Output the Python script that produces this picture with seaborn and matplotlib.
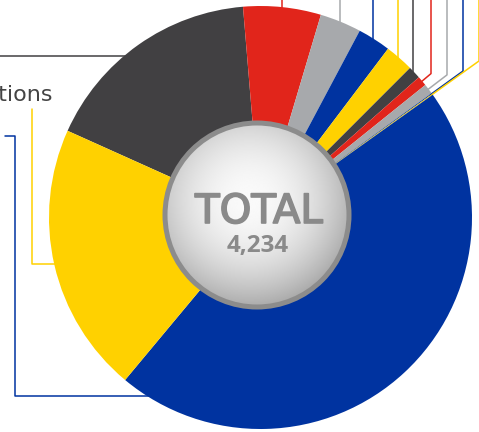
import numpy as np
import matplotlib
matplotlib.use("Agg")
import matplotlib.pyplot as plt
import matplotlib.patheffects as pe
from matplotlib.patches import Circle
import seaborn as sns

sns.set_style("white")
plt.rcParams['font.family'] = ['DejaVu Sans']

# data (clockwise from the yellow / dark boundary)
categories = ["Administration", "Research", "Training", "Outreach", "Support",
              "Logistics", "Finance", "Legal", "Audit", "Other",
              "Services", "Operations"]
counts = [718, 251, 134, 107, 93, 41, 32, 33, 3, 3, 1944, 875]
total = sum(counts)

dark, red, grey, blue, yellow = sns.color_palette(
    ["#414042", "#E1251B", "#A7A9AC", "#0033A0", "#FFD100"])
seg_colors = [dark, red, grey, blue, yellow, dark, red, grey, blue, yellow, blue, yellow]

W, H = 479, 432
def py(y):
    return H - y

cx, cy, R = 260.5, py(217.5), 211.5
lw = 1.1

fig = plt.figure(figsize=(W / 100, H / 100), dpi=100)
ax = fig.add_axes([0, 0, 1, 1])

wedges, _ = ax.pie(counts, colors=seg_colors, startangle=155.8, counterclock=False,
                   radius=R, center=(cx, cy),
                   wedgeprops=dict(width=R - 80, linewidth=0, zorder=2))

mid = [np.deg2rad((w.theta1 + w.theta2) / 2) for w in wedges]

def rim(i, r=R):
    return cx + r * np.cos(mid[i]), cy + r * np.sin(mid[i])

# leader lines, top right
for i in [1, 2, 3, 4, 5]:
    x, y = rim(i, R - 2)
    ax.plot([x, x], [y, H + 5], color=seg_colors[i], lw=lw, zorder=1)
for i, kx in zip([6, 7, 8, 9], [431, 447, 463, 479]):
    x0, y0 = rim(i, R - 2)
    r = (kx - cx) / np.cos(mid[i])
    x1, y1 = rim(i, r)
    ax.plot([x0, x1, x1], [y0, y1, H + 5], color=seg_colors[i], lw=lw, zorder=1)

# leader lines, left
ax.plot([-5, 200], [py(56), py(56)], color=dark, lw=lw, zorder=1)
ax.plot([5, 15, 15, 200], [py(136), py(136), py(396), py(396)], color=blue, lw=lw, zorder=1)
x0, y0 = rim(11, R - 4)
ax.plot([x0, 32, 32], [y0, y0, py(109)], color=yellow, lw=lw, zorder=1)

ax.text(53, py(101), categories[11], ha='right', va='baseline', fontsize=16, color='#444444')
ax.text(-4, py(141), categories[10], ha='right', va='baseline', fontsize=16, color='#444444')

# centre disc with a soft radial gradient
ccx, ccy, cr = 257, py(215), 94.5
ax.add_patch(Circle((ccx, ccy), cr, facecolor='#8c8c8c', edgecolor='none', zorder=3))
inner = Circle((ccx, ccy), cr - 5, facecolor='none', edgecolor='none', zorder=4)
ax.add_patch(inner)
gx = np.linspace(ccx - cr, ccx + cr, 300)
gy = np.linspace(ccy - cr, ccy + cr, 300)
X, Y = np.meshgrid(gx, gy)
d = np.hypot(X - 250, Y - py(200)) / cr
vals = np.clip(0.98 - 0.24 * d ** 2, 0, 1)
img = ax.imshow(vals, cmap='gray', vmin=0, vmax=1, origin='lower',
                extent=[gx[0], gx[-1], gy[0], gy[-1]], zorder=4, interpolation='bilinear')
img.set_clip_path(inner)

ax.text(259, py(223), "TOTAL", ha='center', va='baseline', fontsize=29, color='#8a8a8a',
        zorder=5, path_effects=[pe.withStroke(linewidth=1.2, foreground='#8a8a8a')])
ax.text(258, py(252), f"{total:,}", ha='center', va='baseline', fontsize=17.5,
        family=['Open Sans', 'DejaVu Sans'], weight='bold', color='#8a8a8a', zorder=5)

ax.set_xlim(0, W)
ax.set_ylim(0, H)
ax.set_aspect('equal')
ax.axis('off')

fig.savefig("out.png", dpi=100)
